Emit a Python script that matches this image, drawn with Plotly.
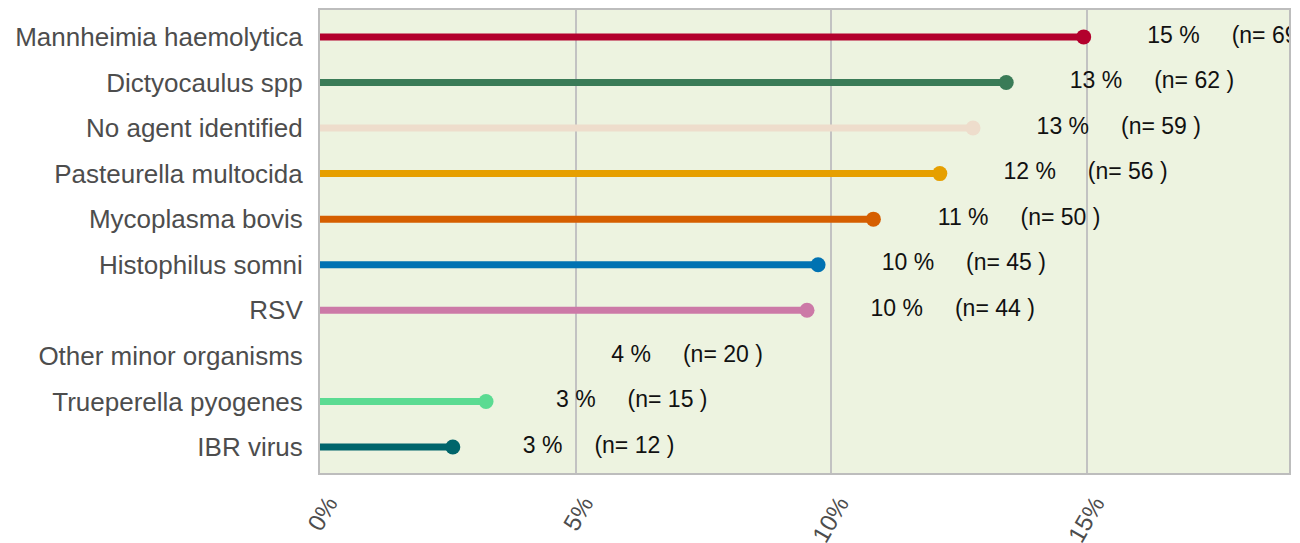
import plotly.graph_objects as go

# Respiratory disease agents identified, with case counts
agents = [
    "Mannheimia haemolytica",
    "Dictyocaulus spp",
    "No agent identified",
    "Pasteurella multocida",
    "Mycoplasma bovis",
    "Histophilus somni",
    "RSV",
    "Other minor organisms",
    "Trueperella pyogenes",
    "IBR virus",
]
cases = [69, 62, 59, 56, 50, 45, 44, 20, 15, 12]
total_cases = 462
colors = [
    "#B3002D",
    "#3A7B57",
    "#EEDDCC",
    "#E69F00",
    "#D55E00",
    "#0072B2",
    "#CC79A7",
    "rgba(0,0,0,0)",
    "#5BDB92",
    "#00656B",
]

pct = [100 * n / total_cases for n in cases]
label_offset = 2.85  # label centre sits this far (in %) right of the point
gap = "\u00a0" * 5
labels = [f"{round(p)}\u00a0%{gap}(n=\u00a0{n}\u00a0)" for p, n in zip(pct, cases)]

font_family = "Liberation Sans, Arial, sans-serif"

fig = go.Figure()

# stems
for name, p, c in zip(agents, pct, colors):
    fig.add_trace(go.Scatter(
        x=[0, p], y=[name, name], mode="lines",
        line=dict(color=c, width=7), hoverinfo="skip", showlegend=False,
    ))

# heads
fig.add_trace(go.Scatter(
    x=pct, y=agents, mode="markers",
    marker=dict(color=colors, size=15, line=dict(width=0)),
    showlegend=False,
))

# value labels
fig.add_trace(go.Scatter(
    x=[p + label_offset for p in pct], y=agents, mode="text",
    text=labels, textposition="middle center",
    textfont=dict(family=font_family, size=23, color="#111111"),
    showlegend=False, cliponaxis=True,
))

fig.update_layout(
    width=1300, height=543,
    margin=dict(l=320, r=11, t=10, b=70),
    paper_bgcolor="white",
    plot_bgcolor="#EDF3E0",
    font=dict(family=font_family),
)

fig.update_xaxes(
    range=[0, 18.95],
    tickvals=[0, 5, 10, 15],
    ticktext=["0%", "5%", "10%", "15%"],
    tickangle=-60,
    tickfont=dict(size=24, color="#4D4D4D"),
    ticks="outside", ticklen=5, tickcolor="rgba(0,0,0,0)",
    ticklabelshift=8,
    showgrid=True, gridcolor="#C2C2C2", gridwidth=2,
    showline=True, linecolor="#BDBDBD", linewidth=2, mirror=True,
    zeroline=False, automargin=False,
)

fig.update_yaxes(
    type="category",
    categoryorder="array", categoryarray=agents,
    range=[9.57, -0.59],
    tickfont=dict(size=26, color="#4D4D4D"),
    ticks="outside", ticklen=10, tickcolor="rgba(0,0,0,0)",
    showgrid=False,
    showline=True, linecolor="#BDBDBD", linewidth=2, mirror=True,
    zeroline=False, automargin=False,
)

fig.write_html("out.html")
